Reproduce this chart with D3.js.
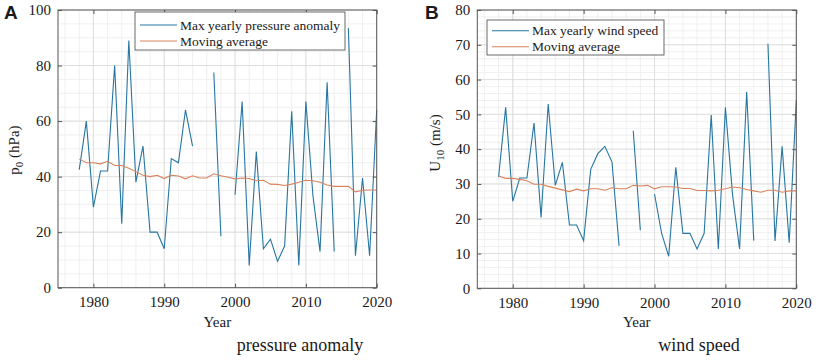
<!DOCTYPE html>
<html>
<head>
<meta charset="utf-8">
<script src="https://cdn.jsdelivr.net/npm/d3@7"></script>
<style>
    body { margin: 0; background: white; }
    svg { display: block; }
    text { font-family: "Liberation Serif", "Times New Roman", serif; fill: #1a1a1a; }
</style>
</head>
<body>
<div id="chart"></div>
<script>

// years 1978 - 2020, null = no value that year
let years = d3.range(1978, 2021);

let pressureMax = [42.5, 60, 29, 42, 42, 80, 23, 89, 38, 51, 20, 20, 14, 46.5, 45, 64, 51, null, null, 77.5,
    18.5, null, 33.5, 67, 8, 49, 14, 17.5, 9.5, 15, 63.5, 8, 67, 33, 13, 74, 13, null, 93.5, 11.5,
    39.5, 11.5, 64];
let pressureAvg = [46.3, 45, 45, 44.6, 45.5, 44, 44, 43, 41.8, 40.5, 40, 40.5, 39.3, 40.5, 40.2, 39.2, 40.3, 39.5, 39.5, 41,
    40.3, 39.8, 39.2, 39.5, 39.3, 38.5, 38.7, 37.3, 37.2, 36.8, 37.3, 38, 38.7, 38.5, 38, 37, 36.5, 36.5, 36.5, 34.5,
    35.1, 35.2, 35.2];

let windMax = [32, 52, 25, 31.7, 31.7, 47.5, 20.4, 53, 29.6, 36.2, 18.2, 18.2, 13.7, 34.2, 38.7, 40.8, 36.3, 12.2, null, 45.3,
    16.7, null, 27.1, 15.8, 9.2, 34.8, 15.8, 15.8, 11.3, 15.8, 49.8, 11.3, 52, 27, 11.3, 56.5, 13.7, null, 70.3, 13.6,
    40.8, 13.1, 54];
let windAvg = [32.3, 31.6, 31.6, 31.3, 30.9, 29.9, 29.9, 29.3, 28.8, 28.3, 27.8, 28.5, 28, 28.6, 28.6, 28.2, 28.9, 28.6, 28.6, 29.6,
    29.4, 29.6, 28.6, 29.2, 29.2, 29.1, 28.7, 28.7, 28.1, 28.1, 28, 28.2, 28.6, 29.1, 28.9, 28.4, 28, 27.6, 28.2, 28.2,
    27.6, 28, 28];

let xTicks = [1980, 1990, 2000, 2010, 2020];
let pressureTicks = [0, 20, 40, 60, 80, 100];
let windTicks = [0, 10, 20, 30, 40, 50, 60, 70, 80];

let blue = "#2776a2";
let orange = "#d9835d";

let svg = d3.select("#chart").append("svg")
    .attr("width", 816)
    .attr("height", 360);

function drawPanel(p) {
    let g = svg.append("g");

    let x = d3.scaleLinear().domain([1975, 2020]).range([p.left, p.right]);
    let y = d3.scaleLinear().domain([0, p.yMax]).range([p.bottom, p.top]);

    // minor grid
    g.selectAll(".xminor")
        .data(d3.range(1976, 2020, 2))
        .enter().append("line")
        .attr("x1", d => x(d)).attr("x2", d => x(d))
        .attr("y1", p.top).attr("y2", p.bottom)
        .attr("stroke", "#ececec").attr("stroke-width", 0.8);

    g.selectAll(".yminor")
        .data(d3.range(p.yMinor, p.yMax, p.yMinor))
        .enter().append("line")
        .attr("x1", p.left).attr("x2", p.right)
        .attr("y1", d => y(d)).attr("y2", d => y(d))
        .attr("stroke", "#ececec").attr("stroke-width", 0.8);

    // major grid
    g.selectAll(".xmajor")
        .data(xTicks)
        .enter().append("line")
        .attr("x1", d => x(d)).attr("x2", d => x(d))
        .attr("y1", p.top).attr("y2", p.bottom)
        .attr("stroke", "#d9d9d9").attr("stroke-width", 0.8);

    g.selectAll(".ymajor")
        .data(p.yTicks)
        .enter().append("line")
        .attr("x1", p.left).attr("x2", p.right)
        .attr("y1", d => y(d)).attr("y2", d => y(d))
        .attr("stroke", "#d9d9d9").attr("stroke-width", 0.8);

    // data lines
    let line = d3.line()
        .defined(d => d.v != null)
        .x(d => x(d.year))
        .y(d => y(d.v));

    g.append("path")
        .datum(years.map((yr, i) => ({year: yr, v: p.maxData[i]})))
        .attr("fill", "none")
        .attr("stroke", blue)
        .attr("stroke-width", 1.1)
        .attr("d", line);

    g.append("path")
        .datum(years.map((yr, i) => ({year: yr, v: p.avgData[i]})))
        .attr("fill", "none")
        .attr("stroke", orange)
        .attr("stroke-width", 1.1)
        .attr("d", line);

    // axes (ticks point inward, box on all sides)
    let axisColor = "#555";
    let bottom = g.append("g")
        .attr("transform", `translate(0, ${p.bottom})`)
        .call(d3.axisBottom(x).tickValues(xTicks).tickSize(-4).tickPadding(9).tickFormat(d3.format("d")));
    let top = g.append("g")
        .attr("transform", `translate(0, ${p.top})`)
        .call(d3.axisTop(x).tickValues(xTicks).tickSize(-4).tickFormat(""));
    let left = g.append("g")
        .attr("transform", `translate(${p.left}, 0)`)
        .call(d3.axisLeft(y).tickValues(p.yTicks).tickSize(-4).tickPadding(7));
    let right = g.append("g")
        .attr("transform", `translate(${p.right}, 0)`)
        .call(d3.axisRight(y).tickValues(p.yTicks).tickSize(-4).tickFormat(""));

    [bottom, top, left, right].forEach(a => {
        a.select(".domain").remove();
        a.selectAll("line").attr("stroke", axisColor);
        a.selectAll("text")
            .style("font-family", "'Liberation Serif', serif")
            .style("font-size", "15px")
            .attr("fill", "#1a1a1a");
    });

    g.append("rect")
        .attr("x", p.left).attr("y", p.top)
        .attr("width", p.right - p.left).attr("height", p.bottom - p.top)
        .attr("fill", "none")
        .attr("stroke", axisColor)
        .attr("stroke-width", 1);

    // axis titles
    g.append("text")
        .attr("x", (p.left + p.right) / 2)
        .attr("y", 327)
        .attr("text-anchor", "middle")
        .style("font-size", "15px")
        .text("Year");

    let yl = g.append("text")
        .attr("transform", `translate(${p.yLabelX}, ${p.yLabelY}) rotate(-90)`)
        .attr("text-anchor", "middle")
        .style("font-size", "15px");
    yl.append("tspan").text(p.yVar);
    yl.append("tspan").attr("dy", 4).style("font-size", "11px").text(p.ySub);
    yl.append("tspan").attr("dy", -4).text(" " + p.yUnit);

    // caption under the panel
    g.append("text")
        .attr("x", p.captionX)
        .attr("y", 351)
        .attr("text-anchor", "middle")
        .style("font-size", "18px")
        .text(p.caption);

    // panel letter
    g.append("text")
        .attr("x", p.letterX)
        .attr("y", 19)
        .style("font-family", "'Liberation Sans', Arial, sans-serif")
        .style("font-weight", "bold")
        .style("font-size", "19px")
        .attr("fill", "#111")
        .text(p.letter);

    // legend
    let lg = g.append("g").attr("transform", `translate(${p.legX}, ${p.legY})`);
    lg.append("rect")
        .attr("width", p.legW).attr("height", p.legH)
        .attr("fill", "white")
        .attr("stroke", "#444")
        .attr("stroke-width", 0.8);
    let entries = [{name: p.maxName, color: blue}, {name: "Moving average", color: orange}];
    entries.forEach((e, i) => {
        let cy = p.legRow0 + i * p.legRowH;
        lg.append("line")
            .attr("x1", 5).attr("x2", 42)
            .attr("y1", cy).attr("y2", cy)
            .attr("stroke", e.color).attr("stroke-width", 1.1);
        lg.append("text")
            .attr("x", 45)
            .attr("y", cy + 4.5)
            .style("font-size", "13.5px")
            .text(e.name);
    });
}

drawPanel({
    left: 58, right: 376.7, top: 10, bottom: 287.7,
    yMax: 100, yTicks: pressureTicks, yMinor: 5,
    maxData: pressureMax, avgData: pressureAvg,
    yVar: "p", ySub: "0", yUnit: "(hPa)", yLabelX: 19, yLabelY: 150,
    caption: "pressure anomaly", captionX: 300,
    letter: "A", letterX: 4,
    maxName: "Max yearly pressure anomaly",
    legX: 135, legY: 12, legW: 210, legH: 38, legRow0: 13, legRowH: 16
});

drawPanel({
    left: 477.3, right: 796.3, top: 10, bottom: 288.3,
    yMax: 80, yTicks: windTicks, yMinor: 2,
    maxData: windMax, avgData: windAvg,
    yVar: "U", ySub: "10", yUnit: "(m/s)", yLabelX: 440, yLabelY: 143,
    caption: "wind speed", captionX: 699,
    letter: "B", letterX: 425,
    maxName: "Max yearly wind speed",
    legX: 487, legY: 20, legW: 177, legH: 35, legRow0: 10.7, legRowH: 16
});

</script>
</body>
</html>
